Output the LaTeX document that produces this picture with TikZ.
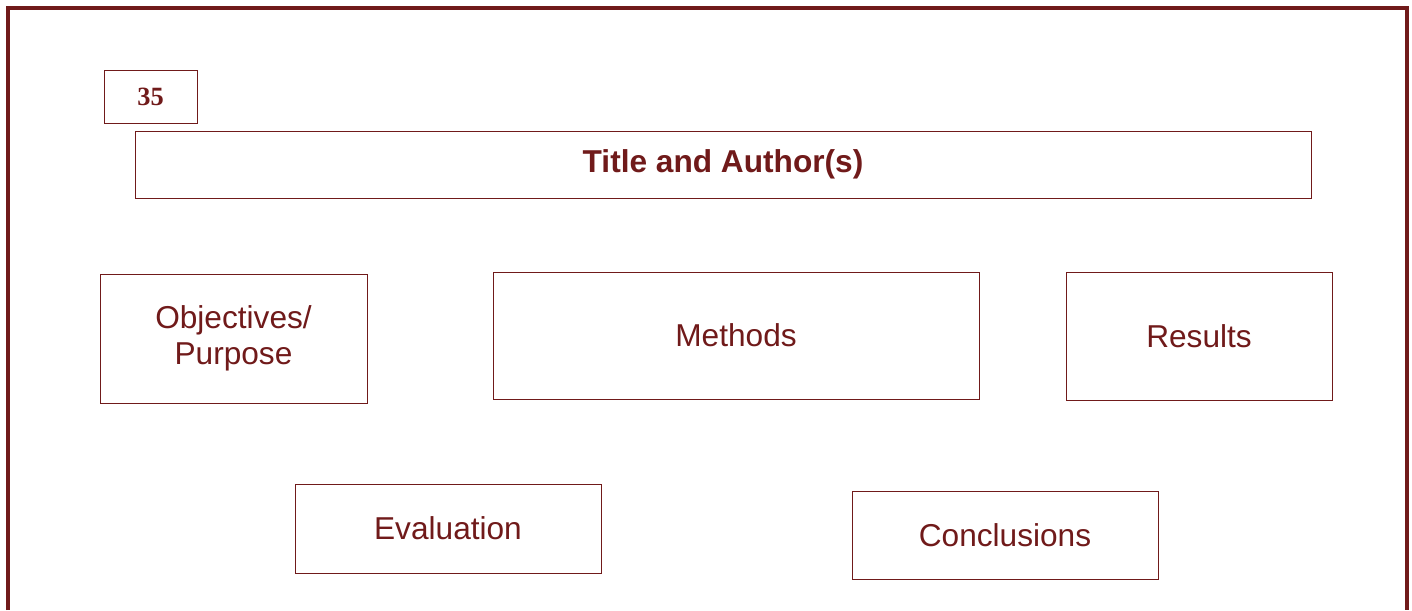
\documentclass[tikz,border=0pt]{standalone}
\usepackage{fontspec}
\setmainfont{Liberation Sans}
\newfontfamily\numfont{Liberation Serif}
\usepackage{xcolor}
\definecolor{pdred}{RGB}{112,26,26}
\usetikzlibrary{positioning}

\begin{document}
\begin{tikzpicture}[
  numbox/.style={rectangle, draw=pdred, line width=0.55pt,
                 minimum width=1.86cm, minimum height=1.06cm,
                 font=\numfont\fontsize{15}{17}\selectfont\bfseries, text=pdred},
  titlebox/.style={rectangle, draw=pdred, line width=0.55pt,
                   minimum width=23.52cm, minimum height=1.34cm,
                   font=\fontsize{18}{21}\selectfont\bfseries, text=pdred},
  secbox/.style={rectangle, draw=pdred, line width=0.55pt,
                 font=\fontsize{18}{20.5}\selectfont, align=center, text=pdred},
  frame/.style={draw=pdred, line width=2.4pt}
]
\useasboundingbox (0,0) rectangle (28.24,12.2);

% Outer frame (open at the bottom)
\draw[frame] (0.16,0) -- (0.16,12.04) -- (28.14,12.04) -- (28.14,0);

% Number and title
\node[numbox]   (num)   at (3.01,10.27) {35};
\node[titlebox] (title) at (14.46,8.91) {Title and Author(s)};

% Top row
\node[secbox, minimum width=5.34cm, minimum height=2.58cm] (obj)  at (4.67,5.43)  {Objectives/\\Purpose};
\node[secbox, minimum width=9.72cm, minimum height=2.54cm] (meth) at (14.72,5.49) {Methods};
\node[secbox, minimum width=5.32cm, minimum height=2.56cm] (res)  at (23.98,5.48) {Results};

% Bottom row
\node[secbox, minimum width=6.12cm, minimum height=1.78cm] (eval) at (8.96,1.63)  {Evaluation};
\node[secbox, minimum width=6.12cm, minimum height=1.76cm] (conc) at (20.10,1.50) {Conclusions};
\end{tikzpicture}
\end{document}
